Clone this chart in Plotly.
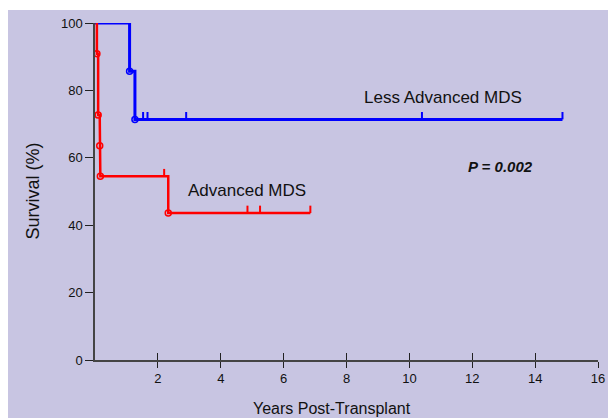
import plotly.graph_objects as go

# Less Advanced MDS (Kaplan-Meier steps)
less_t = [0, 1.1, 1.1, 1.27, 1.27, 14.87]
less_s = [100, 100, 85.7, 85.7, 71.4, 71.4]
less_evt_t = [1.1, 1.27]
less_evt_s = [85.7, 71.4]
less_cens_t = [1.53, 1.67, 2.9, 10.4, 14.87]
less_cens_s = [71.4, 71.4, 71.4, 71.4, 71.4]

# Advanced MDS
adv_t = [0.06, 0.06, 0.1, 0.1, 0.15, 0.15, 0.17, 0.17, 2.33, 2.33, 6.85]
adv_s = [100, 90.9, 90.9, 72.7, 72.7, 63.6, 63.6, 54.5, 54.5, 43.6, 43.6]
adv_evt_t = [0.06, 0.1, 0.15, 0.17, 2.33]
adv_evt_s = [90.9, 72.7, 63.6, 54.5, 43.6]
adv_cens_t = [2.2, 4.85, 5.25, 6.85]
adv_cens_s = [54.5, 43.6, 43.6, 43.6]

x_ticks = [2, 4, 6, 8, 10, 12, 14, 16]
y_ticks = [0, 20, 40, 60, 80, 100]

BLUE = "#0000ff"
RED = "#ff0000"
BG = "#c8c5e2"
FONT = "Liberation Sans, Arial, sans-serif"

fig = go.Figure()

def add_group(t, s, et, es, ct, cs, color, width):
    fig.add_trace(go.Scatter(x=t, y=s, mode="lines", line=dict(color=color, width=width, shape="linear"),
                             hoverinfo="skip", showlegend=False))
    fig.add_trace(go.Scatter(x=et, y=es, mode="markers",
                             marker=dict(symbol="circle-open", size=6, color=color, line=dict(width=1.5, color=color)),
                             showlegend=False))
    fig.add_trace(go.Scatter(x=ct, y=cs, mode="markers", marker=dict(size=0.1, color=color, opacity=0),
                             error_y=dict(type="data", symmetric=False, array=[2.2] * len(ct),
                                          arrayminus=[0] * len(ct), width=0, thickness=2, color=color),
                             showlegend=False))

add_group(less_t, less_s, less_evt_t, less_evt_s, less_cens_t, less_cens_s, BLUE, 3)
add_group(adv_t, adv_s, adv_evt_t, adv_evt_s, adv_cens_t, adv_cens_s, RED, 2.5)

fig.add_annotation(x=11.07, y=78, text="Less Advanced MDS", showarrow=False,
                   font=dict(family=FONT, size=17, color="#111111"))
fig.add_annotation(x=4.83, y=50.4, text="Advanced MDS", showarrow=False,
                   font=dict(family=FONT, size=17, color="#111111"))
fig.add_annotation(x=12.9, y=57.3, text="<b><i>P = 0.002</i></b>", showarrow=False,
                   font=dict(family=FONT, size=15, color="#111111"))
fig.add_annotation(xref="paper", yref="paper", x=(324 - 87) / 503, y=-(398 - 350) / 337,
                   text="Years Post-Transplant", showarrow=False, yanchor="middle",
                   font=dict(family=FONT, size=16, color="#111111"))
fig.add_annotation(xref="paper", yref="paper", x=(24 - 87) / 503, y=0.5, textangle=-90,
                   text="Survival (%)", showarrow=False, xanchor="center",
                   font=dict(family=FONT, size=18, color="#111111"))

fig.update_layout(
    width=608, height=418,
    margin=dict(l=87, r=18, t=13, b=68),
    paper_bgcolor=BG, plot_bgcolor=BG,
    font=dict(family=FONT, size=13, color="#111111"),
    xaxis=dict(range=[0, 16], tickvals=x_ticks, ticktext=[str(v) for v in x_ticks], automargin=False,
               showgrid=False, zeroline=False, showline=True, linecolor="#444444", linewidth=1.5,
               ticks="outside", ticklen=6, tickwidth=1, tickcolor="#222222", fixedrange=True),
    xaxis2=dict(range=[0, 16], overlaying="x", anchor="y", side="bottom", tickvals=x_ticks, automargin=False,
                showticklabels=False, showgrid=False, zeroline=False, showline=False,
                ticks="inside", ticklen=7, tickwidth=1, tickcolor="#222222"),
    yaxis=dict(range=[0, 100], tickvals=y_ticks, showgrid=False, zeroline=False, automargin=False,
               showline=True, linecolor="#444444", linewidth=1.5,
               ticks="outside", ticklen=8, tickwidth=1, tickcolor="#222222"),
)
# dummy trace to activate xaxis2
fig.add_trace(go.Scatter(x=[0], y=[0], xaxis="x2", mode="markers", marker=dict(opacity=0), showlegend=False,
                         hoverinfo="skip"))

page_css = ("document.body.style.margin='10px 0 0 8px';"
            "document.body.style.overflow='hidden';"
            "document.documentElement.style.overflow='hidden';")
fig.write_html("out.html", post_script=page_css)
